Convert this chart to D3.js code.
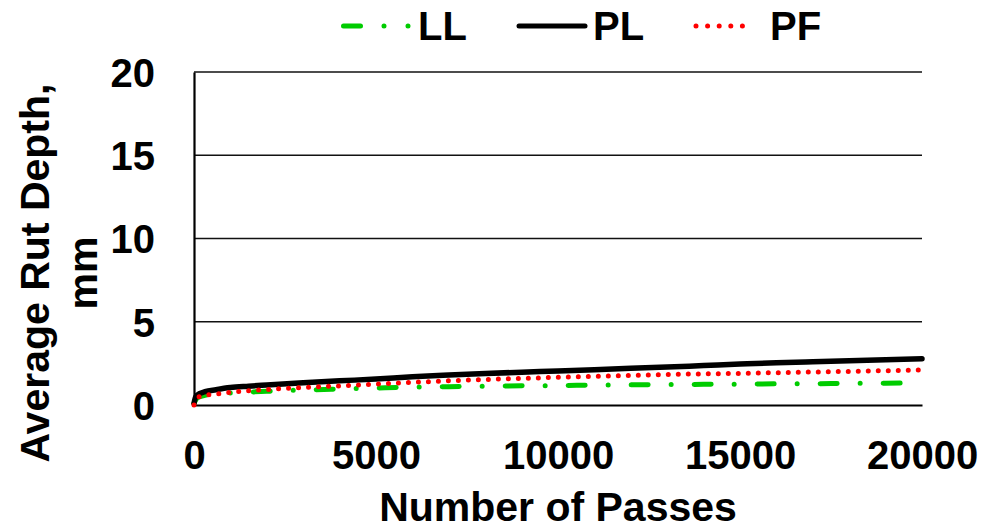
<!DOCTYPE html>
<html lang="en">
<head>
    <meta charset="UTF-8">
    <title>Average Rut Depth vs Number of Passes</title>
    <script src="https://cdn.jsdelivr.net/npm/d3@7/dist/d3.min.js"></script>
    <style>
        body { margin: 0; background: #fff; }
        svg text { font-family: "Liberation Sans", Arial, sans-serif; font-weight: bold; fill: #000; }
    </style>
</head>
<body>
<div id="chart"></div>
<script>
// values (passes -> mm)
const plPasses = [0, 50, 150, 300, 600, 1000, 1500, 2000, 3000, 4000, 5000, 6000, 7000, 8000, 9000, 10000, 11000, 12000, 13000, 14000, 15000, 16000, 17000, 18000, 19000, 20000];
const plDepth  = [0.1, 0.5, 0.68, 0.8, 0.92, 1.05, 1.13, 1.2, 1.33, 1.45, 1.56, 1.7, 1.8, 1.89, 1.97, 2.04, 2.12, 2.2, 2.28, 2.37, 2.46, 2.54, 2.6, 2.66, 2.72, 2.78];

const pfPasses = [0, 100, 250, 600, 1000, 2000, 3000, 4000, 5000, 6000, 7000, 8000, 9000, 10000, 11000, 12000, 13000, 14000, 15000, 16000, 17000, 18000, 19000, 20000];
const pfDepth  = [0.0, 0.45, 0.56, 0.66, 0.76, 0.93, 1.05, 1.15, 1.25, 1.36, 1.45, 1.53, 1.6, 1.66, 1.72, 1.78, 1.83, 1.87, 1.9, 1.94, 1.98, 2.02, 2.06, 2.1];

const llPasses = [0, 100, 300, 600, 1000, 2000, 3000, 4000, 5000, 6000, 7000, 8000, 9000, 10000, 11000, 12000, 13000, 14000, 15000, 16000, 17000, 18000, 19000, 20000];
const llDepth  = [0.1, 0.45, 0.58, 0.66, 0.72, 0.82, 0.9, 0.96, 1.02, 1.07, 1.1, 1.13, 1.15, 1.17, 1.19, 1.21, 1.23, 1.24, 1.25, 1.27, 1.28, 1.3, 1.31, 1.32];

const xTicks = [0, 5000, 10000, 15000, 20000];
const yTicks = [0, 5, 10, 15, 20];
const seriesNames = ["LL", "PL", "PF"];

const width = 985, height = 529;
const margin = { top: 72, right: 63, bottom: 124, left: 194 };

const svg = d3.select("#chart").append("svg")
    .attr("width", width)
    .attr("height", height);

const xScale = d3.scaleLinear()
    .domain([0, 20000])
    .range([margin.left, width - margin.right]);
const yScale = d3.scaleLinear()
    .domain([0, 20])
    .range([height - margin.bottom, margin.top]);

// gridlines
svg.append("g")
    .selectAll("line")
    .data(yTicks.filter(d => d > 0))
    .enter()
    .append("line")
    .attr("x1", xScale(0))
    .attr("x2", xScale(20000))
    .attr("y1", d => yScale(d))
    .attr("y2", d => yScale(d))
    .attr("stroke", "#111")
    .attr("stroke-width", 1.4);

// axes
const xAxis = d3.axisBottom(xScale).tickValues(xTicks).tickSize(0).tickFormat(d3.format("d"));
const yAxis = d3.axisLeft(yScale).tickValues(yTicks).tickSize(0).tickPadding(39);

const gx = svg.append("g")
    .attr("transform", `translate(0, ${yScale(0)})`)
    .call(xAxis);
gx.select(".domain").attr("stroke", "#000").attr("stroke-width", 2.2);
gx.selectAll("text")
    .attr("y", 64)
    .attr("dy", null)
    .style("font-size", "40px");

const gy = svg.append("g")
    .attr("transform", `translate(${xScale(0)}, 0)`)
    .call(yAxis);
gy.select(".domain").attr("stroke", "#000").attr("stroke-width", 2.2);
gy.selectAll("text")
    .attr("dy", "0.36em")
    .style("font-size", "40px");

// axis titles
svg.append("text")
    .attr("x", (xScale(0) + xScale(20000)) / 2)
    .attr("y", 521)
    .attr("text-anchor", "middle")
    .style("font-size", "41px")
    .text("Number of Passes");

const yTitle = svg.append("text")
    .attr("transform", "translate(49, 273) rotate(-90)")
    .attr("text-anchor", "middle")
    .style("font-size", "41px");
yTitle.append("tspan").attr("x", 0).attr("y", 0).text("Average Rut Depth,");
yTitle.append("tspan").attr("x", 0).attr("y", 48).text("mm");

// lines
const line = d3.line()
    .x(d => xScale(d[0]))
    .y(d => yScale(d[1]))
    .curve(d3.curveMonotoneX);

const llData = d3.zip(llPasses, llDepth);
const plData = d3.zip(plPasses, plDepth);
const pfData = d3.zip(pfPasses, pfDepth);

const styles = {
    LL: { color: "#00cc00", width: 5, dash: "17 23 0 23", cap: "round" },
    PL: { color: "#000000", width: 5.5, dash: null, cap: "round" },
    PF: { color: "#ff0000", width: 5, dash: "0 10", cap: "round" }
};

[["LL", llData], ["PL", plData], ["PF", pfData]].forEach(([name, data]) => {
    const s = styles[name];
    svg.append("path")
        .datum(data)
        .attr("fill", "none")
        .attr("stroke", s.color)
        .attr("stroke-width", s.width)
        .attr("stroke-linecap", s.cap)
        .attr("stroke-dasharray", s.dash)
        .attr("d", line);
});

// legend
const legendPos = { LL: [343.5, 409, 418], PL: [519, 585, 593], PF: [696, 753, 770] };
const legendDash = { LL: "17 23.5 0 24 0 100", PL: null, PF: "0 11.6" };
const legend = svg.append("g");
seriesNames.forEach(name => {
    const s = styles[name];
    const p = legendPos[name];
    legend.append("line")
        .attr("x1", p[0]).attr("x2", p[1])
        .attr("y1", 26).attr("y2", 26)
        .attr("stroke", s.color)
        .attr("stroke-width", name === "PL" ? 5 : s.width)
        .attr("stroke-linecap", s.cap)
        .attr("stroke-dasharray", legendDash[name]);
    legend.append("text")
        .attr("x", p[2])
        .attr("y", 40)
        .style("font-size", "40px")
        .text(name);
});
</script>
</body>
</html>
